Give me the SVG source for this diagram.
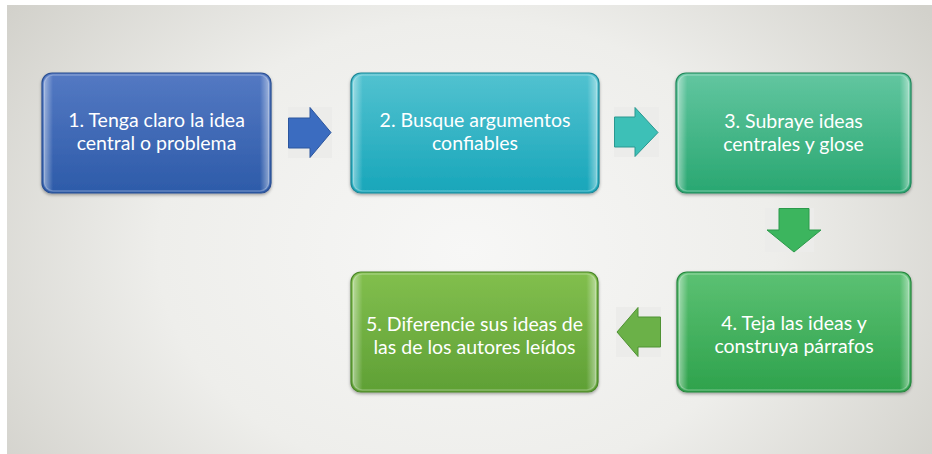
<svg xmlns="http://www.w3.org/2000/svg" width="932" height="454" viewBox="0 0 932 454">
<defs>
<radialGradient id="bg" cx="466" cy="250" r="560" gradientUnits="userSpaceOnUse" gradientTransform="translate(466 250) scale(1 0.75) translate(-466 -250)">
<stop offset="0" stop-color="#f7f7f6"/>
<stop offset="0.55" stop-color="#eeeeeb"/>
<stop offset="1" stop-color="#d2d1cb"/>
</radialGradient>
<linearGradient id="g1" x1="0" y1="0" x2="0" y2="1"><stop offset="0" stop-color="#5479c3"/><stop offset="1" stop-color="#2d5ba9"/></linearGradient>
<linearGradient id="g2" x1="0" y1="0" x2="0" y2="1"><stop offset="0" stop-color="#52c2d0"/><stop offset="1" stop-color="#18a6ba"/></linearGradient>
<linearGradient id="g3" x1="0" y1="0" x2="0" y2="1"><stop offset="0" stop-color="#62c6a0"/><stop offset="1" stop-color="#29a771"/></linearGradient>
<linearGradient id="g4" x1="0" y1="0" x2="0" y2="1"><stop offset="0" stop-color="#5cc173"/><stop offset="1" stop-color="#2ea24c"/></linearGradient>
<linearGradient id="g5" x1="0" y1="0" x2="0" y2="1"><stop offset="0" stop-color="#82bf4e"/><stop offset="1" stop-color="#5fa035"/></linearGradient>
<linearGradient id="side" x1="0" y1="0" x2="1" y2="0">
<stop offset="0" stop-color="#fff" stop-opacity="0.45"/>
<stop offset="0.04" stop-color="#fff" stop-opacity="0"/>
<stop offset="0.96" stop-color="#fff" stop-opacity="0"/>
<stop offset="1" stop-color="#fff" stop-opacity="0.45"/>
</linearGradient>
<filter id="sh" x="-10%" y="-10%" width="120%" height="130%">
<feDropShadow dx="0" dy="1.5" stdDeviation="1.5" flood-color="#000" flood-opacity="0.35"/>
</filter>
</defs>
<style>
.box{stroke-width:1.2;filter:url(#sh)}
.gloss{fill:url(#side);stroke:#fff;stroke-opacity:0.25;stroke-width:1.5}
.lbl{font-family:Lato,"Open Sans","Liberation Sans",sans-serif;font-size:19.5px;fill:#fff;text-anchor:middle}
.abg{fill:#ececea}
</style>
<rect x="7" y="5" width="925" height="449" fill="url(#bg)"/>

<g id="connectors">
<rect class="abg" x="288" y="107" width="44" height="51"/>
<path d="M288.5 118 H310 V107.5 L331 132.5 L310 157.5 V148 H288.5 Z" fill="#3b6cc0" stroke="#2c569e" stroke-width="1"/>
<rect class="abg" x="614" y="107" width="45" height="50"/>
<path d="M614.5 117 H635 V107.5 L658 132.5 L635 156.5 V147 H614.5 Z" fill="#3dc0b7" stroke="#2a9890" stroke-width="1"/>
<rect class="abg" x="765" y="208" width="49" height="44"/>
<path d="M779 208.5 V230 H767 L794 252 L821 230 H809 V208.5 Z" fill="#3cb55e" stroke="#2b9a4a" stroke-width="1"/>
<rect class="abg" x="616" y="307" width="45" height="50"/>
<path d="M660.5 317 H638 V307.5 L617 332 L638 356.5 V347 H660.5 Z" fill="#6bb148" stroke="#4f9233" stroke-width="1"/>
</g>

<g id="node1">
<rect class="box" x="42" y="73" width="229" height="120" rx="10" fill="url(#g1)" stroke="#2b4f92"/>
<rect class="gloss" x="44" y="75" width="225" height="116" rx="9"/>
<text class="lbl" x="156.5" y="127">1. Tenga claro la idea</text>
<text class="lbl" x="156.5" y="150">central o problema</text>
</g>
<g id="node2">
<rect class="box" x="351" y="73" width="248" height="120" rx="10" fill="url(#g2)" stroke="#1d8797"/>
<rect class="gloss" x="353" y="75" width="244" height="116" rx="9"/>
<text class="lbl" x="475" y="127">2. Busque argumentos</text>
<text class="lbl" x="475" y="150">confiables</text>
</g>
<g id="node3">
<rect class="box" x="676" y="73" width="235" height="120" rx="10" fill="url(#g3)" stroke="#22885b"/>
<rect class="gloss" x="678" y="75" width="231" height="116" rx="9"/>
<text class="lbl" x="793.5" y="127.5">3. Subraye ideas</text>
<text class="lbl" x="793.5" y="150.5">centrales y glose</text>
</g>
<g id="node4">
<rect class="box" x="677" y="272" width="234" height="120" rx="10" fill="url(#g4)" stroke="#26863e"/>
<rect class="gloss" x="679" y="274" width="230" height="116" rx="9"/>
<text class="lbl" x="794" y="330">4. Teja las ideas y</text>
<text class="lbl" x="794" y="353">construya párrafos</text>
</g>
<g id="node5">
<rect class="box" x="351" y="272" width="247" height="120" rx="10" fill="url(#g5)" stroke="#4a8629"/>
<rect class="gloss" x="353" y="274" width="243" height="116" rx="9"/>
<text class="lbl" x="474.5" y="331">5. Diferencie sus ideas de</text>
<text class="lbl" x="474.5" y="354">las de los autores leídos</text>
</g>
</svg>
